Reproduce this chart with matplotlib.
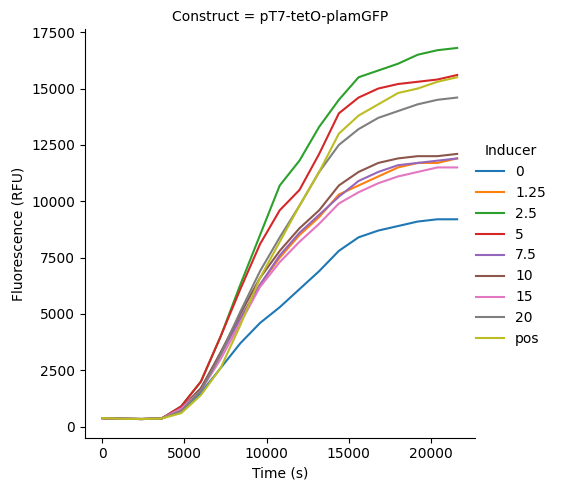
import numpy as np
import pandas as pd
import seaborn as sns
import matplotlib.pyplot as plt

time_s = [0, 1200, 2400, 3600, 4800, 6000, 7200, 8400, 9600, 10800, 12000,
          13200, 14400, 15600, 16800, 18000, 19200, 20400, 21600]
base = [380, 350, 340, 360]

curves = {
    "0":    base + [700, 1500, 2600, 3700, 4600, 5300, 6100, 6900, 7800, 8400, 8700, 8900, 9100, 9200, 9200],
    "1.25": base + [800, 1700, 3200, 4800, 6300, 7500, 8500, 9300, 10300, 10700, 11100, 11500, 11700, 11700, 11900],
    "2.5":  base + [900, 2000, 4000, 6300, 8500, 10700, 11800, 13300, 14500, 15500, 15800, 16100, 16500, 16700, 16800],
    "5":    base + [900, 2000, 4000, 6100, 8100, 9600, 10500, 12100, 13900, 14600, 15000, 15200, 15300, 15400, 15600],
    "7.5":  base + [800, 1700, 3200, 4800, 6300, 7600, 8600, 9400, 10200, 10900, 11300, 11600, 11700, 11800, 11900],
    "10":   base + [800, 1700, 3300, 5000, 6600, 7800, 8800, 9600, 10700, 11300, 11700, 11900, 12000, 12000, 12100],
    "15":   base + [800, 1600, 3000, 4600, 6200, 7300, 8200, 9000, 9900, 10400, 10800, 11100, 11300, 11500, 11500],
    "20":   base + [700, 1600, 3200, 5100, 6900, 8400, 9800, 11300, 12500, 13200, 13700, 14000, 14300, 14500, 14600],
    "pos":  base + [600, 1400, 2600, 4500, 6600, 8200, 9800, 11300, 13000, 13800, 14300, 14800, 15000, 15300, 15500],
}

rows = []
for name, vals in curves.items():
    for t, v in zip(time_s, vals):
        rows.append({"Time (s)": t, "Fluorescence (RFU)": v, "Inducer": name,
                     "Construct": "pT7-tetO-plamGFP"})
df = pd.DataFrame(rows)

g = sns.relplot(data=df, x="Time (s)", y="Fluorescence (RFU)", hue="Inducer",
                col="Construct", kind="line", height=4.9, aspect=0.92)
g.fig.set_size_inches(5.64, 4.9)
g.ax.set_yticks(np.arange(0, 17501, 2500))
g.fig.subplots_adjust(left=0.15, right=0.842, bottom=0.107, top=0.94)
sns.move_legend(g, "center right", bbox_to_anchor=(0.99, 0.5), frameon=False)
g.fig.savefig("out.png", dpi=100)
